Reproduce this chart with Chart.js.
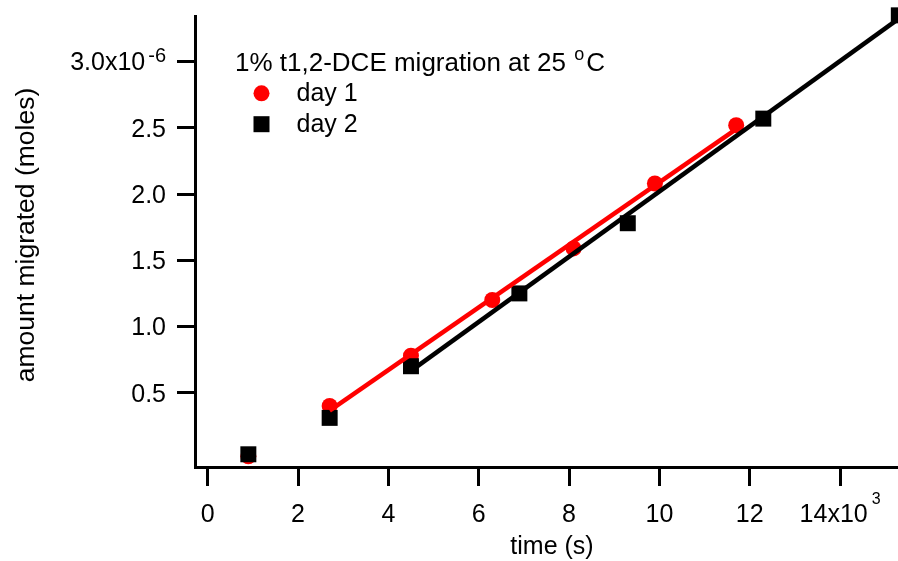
<!DOCTYPE html>
<html>
<head>
<meta charset="utf-8">
<script src="https://cdn.jsdelivr.net/npm/chart.js@4/dist/chart.umd.min.js"></script>
<style>
  html, body { margin: 0; padding: 0; background: #fff; }
  canvas { display: block; }
</style>
</head>
<body>
<canvas id="chart" width="898" height="561"></canvas>
<script>
// Migration of 1% t1,2-DCE at 25 °C: amount migrated (moles) versus time (s)
const timeDay1  = [900, 2700, 4500, 6300, 8100, 9900, 11700];
const molesDay1 = [0.02e-6, 0.40e-6, 0.78e-6, 1.20e-6, 1.59e-6, 2.08e-6, 2.52e-6];

const timeDay2  = [900, 2700, 4500, 6900, 9300, 12300, 15300];
const molesDay2 = [0.035e-6, 0.31e-6, 0.70e-6, 1.25e-6, 1.78e-6, 2.57e-6, 3.35e-6];

// Straight-line fits (end points)
const fitTimeDay1  = [2700, 11700];
const fitMolesDay1 = [0.365e-6, 2.49e-6];
const fitTimeDay2  = [4500, 15300];
const fitMolesDay2 = [0.665e-6, 3.325e-6];

// Axis ticks
const xTickValues = [0, 2000, 4000, 6000, 8000, 10000, 12000, 14000];
const xTickLabels = ['0', '2', '4', '6', '8', '10', '12', '14x10'];
const xTickSups   = ['', '', '', '', '', '', '', '3'];
const yTickValues = [0.5e-6, 1.0e-6, 1.5e-6, 2.0e-6, 2.5e-6, 3.0e-6];
const yTickLabels = ['0.5', '1.0', '1.5', '2.0', '2.5', '3.0x10'];
const yTickSups   = ['', '', '', '', '', '-6'];

const seriesNames = ['day 1', 'day 2'];
const legendTitle = '1% t1,2-DCE migration at 25 ';
const legendTitleSup = 'o';
const legendTitleEnd = 'C';
const xTitle = 'time (s)';
const yTitle = 'amount migrated (moles)';

const RED = '#ff0000';
const BLACK = '#000000';
const FONT = '"Liberation Sans", Arial, Helvetica, sans-serif';

const pairs = (xs, ys) => xs.map((x, i) => ({ x: x, y: ys[i] }));

// Text with an optional raised exponent, aligned as a whole
function drawSupText(ctx, main, sup, x, baseline, align, mainSize, supSize, raise, gap) {
  ctx.font = mainSize + 'px ' + FONT;
  const w1 = ctx.measureText(main).width;
  let w2 = 0;
  if (sup) {
    ctx.font = supSize + 'px ' + FONT;
    w2 = ctx.measureText(sup).width + gap;
  }
  const total = w1 + w2;
  let start = x;
  if (align === 'right') start = x - total;
  else if (align === 'center') start = x - total / 2;
  ctx.textAlign = 'left';
  ctx.textBaseline = 'alphabetic';
  ctx.font = mainSize + 'px ' + FONT;
  ctx.fillText(main, start, baseline);
  if (sup) {
    ctx.font = supSize + 'px ' + FONT;
    ctx.fillText(sup, start + w1 + gap, baseline - raise);
  }
}

const textPlugin = {
  id: 'axisText',
  afterDraw(chart) {
    const ctx = chart.ctx;
    const xs = chart.scales.x;
    const ys = chart.scales.y;
    ctx.save();
    ctx.fillStyle = BLACK;

    // y tick labels
    yTickValues.forEach((v, i) => {
      const py = ys.getPixelForValue(v);
      drawSupText(ctx, yTickLabels[i], yTickSups[i], ys.right - 29, py + 8.8, 'right', 25, 20, 8.5, 3);
    });
    // x tick labels
    xTickValues.forEach((v, i) => {
      const px = xs.getPixelForValue(v);
      drawSupText(ctx, xTickLabels[i], xTickSups[i], px, xs.top + 54.5, 'center', 25, 16, 17.5, 4);
    });

    // axis titles
    ctx.textAlign = 'center';
    ctx.textBaseline = 'alphabetic';
    ctx.font = '25px ' + FONT;
    ctx.fillText(xTitle, 552, 554);
    ctx.save();
    ctx.font = '26.5px ' + FONT;
    ctx.translate(33.5, 235);
    ctx.rotate(-Math.PI / 2);
    ctx.fillText(yTitle, 0, 0);
    ctx.restore();

    // legend
    ctx.font = '26px ' + FONT;
    ctx.textAlign = 'left';
    const w1 = ctx.measureText(legendTitle).width;
    ctx.fillText(legendTitle, 235, 71);
    ctx.font = '18px ' + FONT;
    const w2 = ctx.measureText(legendTitleSup).width;
    ctx.fillText(legendTitleSup, 235 + w1 + 1, 60);
    ctx.font = '26px ' + FONT;
    ctx.fillText(legendTitleEnd, 235 + w1 + w2 + 3, 71);

    ctx.fillStyle = RED;
    ctx.beginPath();
    ctx.arc(261.5, 93.3, 8, 0, Math.PI * 2);
    ctx.fill();
    ctx.fillStyle = BLACK;
    ctx.fillRect(253.5, 116.2, 16, 16);

    ctx.font = '25px ' + FONT;
    ctx.fillText(seriesNames[0], 296.5, 101);
    ctx.fillText(seriesNames[1], 296.5, 131.5);
    ctx.restore();
  }
};

new Chart(document.getElementById('chart'), {
  type: 'scatter',
  data: {
    datasets: [
      {
        label: seriesNames[0],
        data: pairs(timeDay1, molesDay1),
        pointStyle: 'circle',
        pointRadius: 8,
        pointBackgroundColor: RED,
        pointBorderWidth: 0,
        showLine: false,
        order: 4
      },
      {
        label: seriesNames[1],
        data: pairs(timeDay2, molesDay2),
        pointStyle: 'rect',
        pointRadius: 11.3,
        pointBackgroundColor: BLACK,
        pointBorderWidth: 0,
        showLine: false,
        clip: false,
        order: 3
      },
      {
        label: 'fit day 1',
        data: pairs(fitTimeDay1, fitMolesDay1),
        showLine: true,
        borderColor: RED,
        borderWidth: 4.5,
        pointRadius: 0,
        order: 2
      },
      {
        label: 'fit day 2',
        data: pairs(fitTimeDay2, fitMolesDay2),
        showLine: true,
        borderColor: BLACK,
        borderWidth: 4.5,
        pointRadius: 0,
        order: 1
      }
    ]
  },
  options: {
    responsive: false,
    animation: false,
    devicePixelRatio: 1,
    layout: { autoPadding: false, padding: { top: 16, left: 0, right: 0, bottom: 0 } },
    plugins: {
      legend: { display: false },
      tooltip: { enabled: false },
      title: { display: false }
    },
    scales: {
      x: {
        type: 'linear',
        position: 'bottom',
        min: -281,
        max: 15282,
        afterBuildTicks: (s) => { s.ticks = xTickValues.map(v => ({ value: v })); },
        afterFit: (s) => { s.height = 94; },
        ticks: { display: false },
        grid: {
          display: true,
          drawOnChartArea: false,
          drawTicks: true,
          tickLength: 19,
          tickWidth: 3,
          tickColor: BLACK,
          lineWidth: 3,
          color: BLACK
        },
        border: { display: true, color: BLACK, width: 3 }
      },
      y: {
        type: 'linear',
        position: 'left',
        min: -0.061e-6,
        max: 3.345e-6,
        afterBuildTicks: (s) => { s.ticks = yTickValues.map(v => ({ value: v })); },
        afterFit: (s) => { s.width = 195; },
        ticks: { display: false },
        grid: {
          display: true,
          drawOnChartArea: false,
          drawTicks: true,
          tickLength: 18,
          tickWidth: 3,
          tickColor: BLACK,
          lineWidth: 3,
          color: BLACK
        },
        border: { display: true, color: BLACK, width: 3 }
      }
    }
  },
  plugins: [textPlugin]
});
</script>
</body>
</html>
